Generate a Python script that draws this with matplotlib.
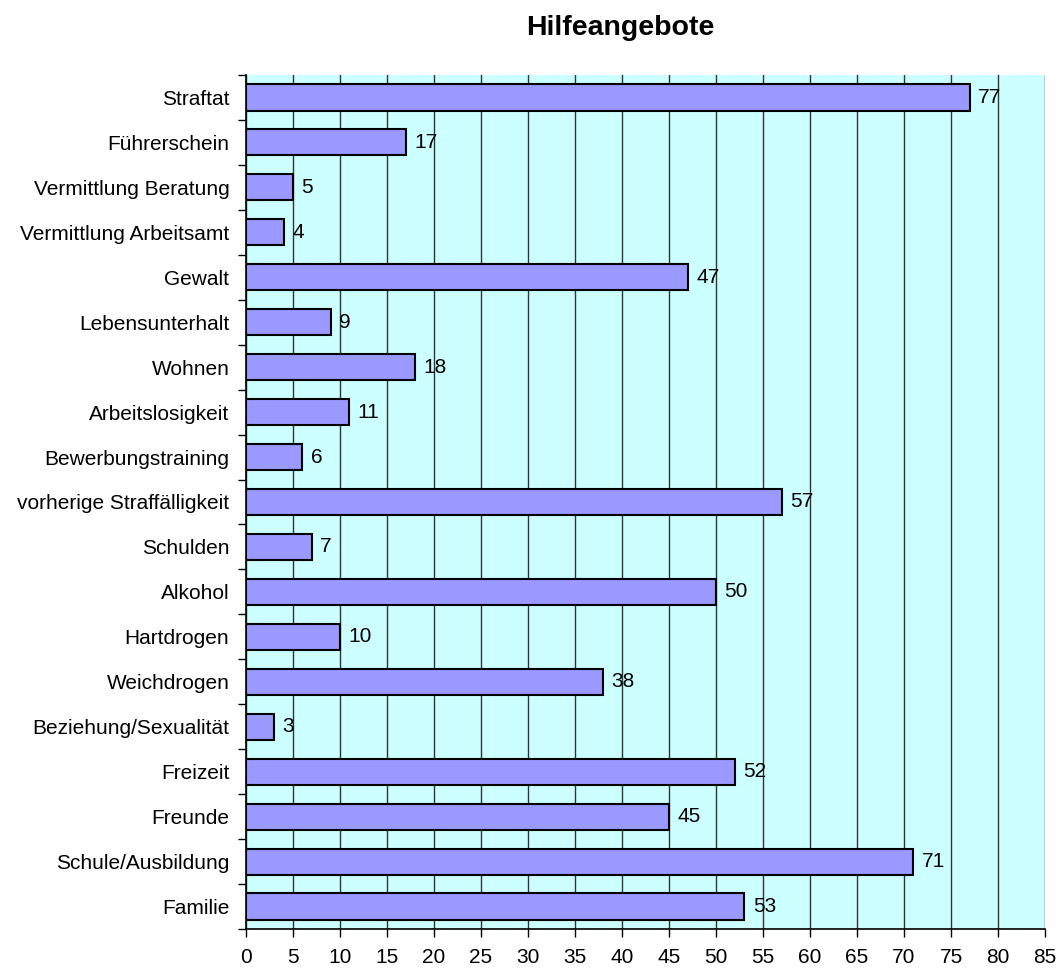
import matplotlib
matplotlib.use("Agg")
import matplotlib.pyplot as plt
import numpy as np

# categories bottom -> top
categories = ["Familie", "Schule/Ausbildung", "Freunde", "Freizeit",
              "Beziehung/Sexualität", "Weichdrogen", "Hartdrogen", "Alkohol",
              "Schulden", "vorherige Straffälligkeit", "Bewerbungstraining",
              "Arbeitslosigkeit", "Wohnen", "Lebensunterhalt", "Gewalt",
              "Vermittlung Arbeitsamt", "Vermittlung Beratung", "Führerschein",
              "Straftat"]
values = [53, 71, 45, 52, 3, 38, 10, 50, 7, 57, 6, 11, 18, 9, 47, 4, 5, 17, 77]
x_ticks = list(range(0, 90, 5))

BG = "#CCFFFF"
BAR = "#9999FF"

plt.rcParams["font.family"] = ["Liberation Sans", "DejaVu Sans"]

fig = plt.figure(figsize=(10.59, 9.69), dpi=100)
ax = fig.add_axes([0.2323, 0.0413, 0.7545, 0.8813])
ax.set_facecolor(BG)

y = np.arange(len(categories))
ax.barh(y, values, height=0.58, color=BAR, edgecolor="black", linewidth=1.5, zorder=3)
for yi, v in zip(y, values):
    ax.text(v + 0.9, yi, str(v), va="center", ha="left", fontsize=15, color="black", zorder=4)

ax.set_xlim(0, 85)
ax.set_ylim(-0.5, len(categories) - 0.5)
ax.set_xticks(x_ticks)
ax.set_xticklabels([str(t) for t in x_ticks], fontsize=15)
ax.xaxis.grid(True, color="#333333", linewidth=1.0, zorder=1)
ax.set_axisbelow(True)

ax.set_yticks(y)
ax.set_yticklabels(categories, fontsize=15)
ax.set_yticks(np.arange(-0.5, len(categories), 1), minor=True)
ax.tick_params(axis="y", which="major", length=0, pad=12)
ax.tick_params(axis="y", which="minor", length=6, width=1, direction="out")
ax.tick_params(axis="x", which="major", length=6, width=1, direction="out", pad=8)

for s in ("top", "right"):
    ax.spines[s].set_visible(False)
for s in ("left", "bottom"):
    ax.spines[s].set_linewidth(1.2)
    ax.spines[s].set_color("black")

fig.text(0.586, 0.964, "Hilfeangebote", ha="center", va="baseline",
         fontsize=20.5, fontweight="bold")

fig.savefig("out.png", dpi=100)
